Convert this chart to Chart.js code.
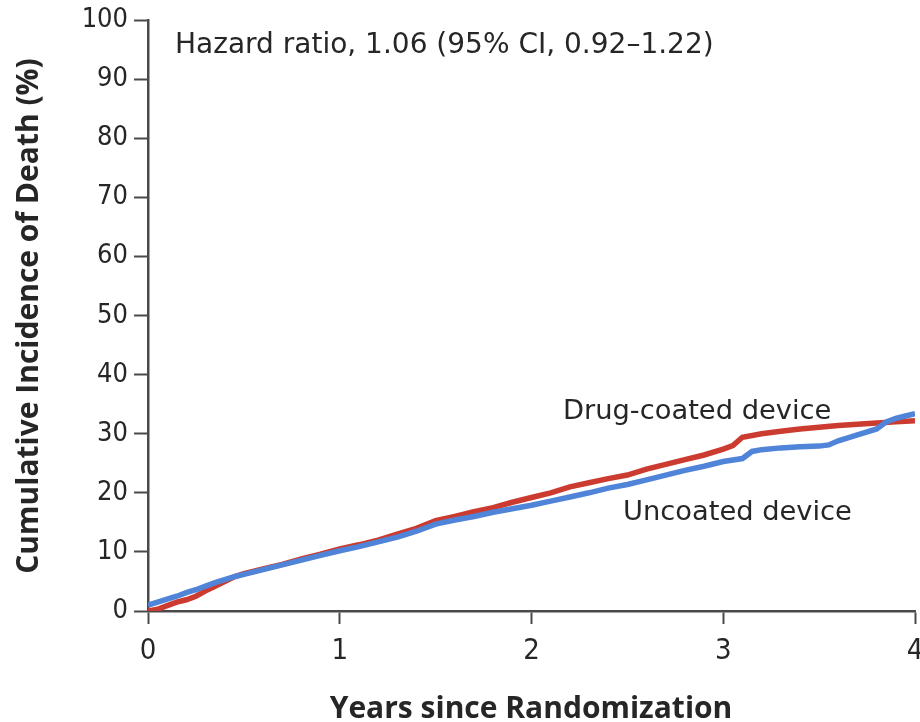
<!DOCTYPE html>
<html>
<head>
<meta charset="utf-8">
<script src="https://cdn.jsdelivr.net/npm/chart.js@4.4.0/dist/chart.umd.min.js"></script>
<style>
  html, body { margin: 0; padding: 0; background: #ffffff; }
  #wrap { width: 920px; height: 722px; }
</style>
</head>
<body>
<div id="wrap"><canvas id="c" width="920" height="722"></canvas></div>
<script>
// Years since randomization at which each curve value is read
const yearsDrug = [0, 0.05, 0.1, 0.15, 0.2, 0.25, 0.3, 0.35, 0.4, 0.45, 0.5, 0.6, 0.7, 0.8, 0.9,
  1.0, 1.1, 1.2, 1.3, 1.4, 1.5, 1.6, 1.7, 1.8, 1.9, 2.0, 2.1, 2.2, 2.3, 2.4, 2.5, 2.6, 2.7, 2.8, 2.9,
  3.0, 3.05, 3.1, 3.2, 3.3, 3.4, 3.5, 3.6, 3.7, 3.8, 3.9, 4.0];
// Cumulative incidence of death (%), drug-coated device
const drugCoated = [0, 0.3, 0.9, 1.5, 1.9, 2.5, 3.4, 4.2, 5.0, 5.8, 6.3, 7.1, 7.9, 8.8, 9.6,
  10.5, 11.2, 12.0, 13.0, 14.0, 15.3, 16.0, 16.8, 17.5, 18.4, 19.2, 20.0, 21.0, 21.7, 22.4, 23.0, 24.0, 24.8, 25.6, 26.4,
  27.4, 28.0, 29.4, 30.0, 30.4, 30.8, 31.1, 31.4, 31.6, 31.8, 32.0, 32.2];

const yearsUncoated = [0, 0.05, 0.1, 0.15, 0.2, 0.25, 0.3, 0.35, 0.4, 0.45, 0.5, 0.6, 0.7, 0.8, 0.9,
  1.0, 1.1, 1.2, 1.3, 1.4, 1.5, 1.6, 1.7, 1.8, 1.9, 2.0, 2.1, 2.2, 2.3, 2.4, 2.5, 2.6, 2.7, 2.8, 2.9,
  3.0, 3.1, 3.15, 3.2, 3.3, 3.4, 3.5, 3.55, 3.6, 3.7, 3.8, 3.85, 3.9, 3.95, 4.0];
// Cumulative incidence of death (%), uncoated device
const uncoated = [1.0, 1.5, 2.0, 2.5, 3.1, 3.6, 4.2, 4.8, 5.3, 5.8, 6.2, 7.0, 7.8, 8.6, 9.4,
  10.2, 10.9, 11.7, 12.5, 13.5, 14.7, 15.4, 16.0, 16.7, 17.3, 17.9, 18.6, 19.3, 20.0, 20.8, 21.4, 22.2, 23.0, 23.8, 24.5,
  25.3, 25.8, 27.0, 27.3, 27.6, 27.8, 27.9, 28.1, 28.8, 29.8, 30.8, 32.0, 32.6, 33.0, 33.4];

const xTicks = [0, 1, 2, 3, 4];
const yTicks = [0, 10, 20, 30, 40, 50, 60, 70, 80, 90, 100];

const hazardText = 'Hazard ratio, 1.06 (95% CI, 0.92\u20131.22)';
const labelDrug = 'Drug-coated device';
const labelUncoated = 'Uncoated device';
const xTitle = 'Years since Randomization';
const yTitle = 'Cumulative Incidence of Death (%)';

const RED = '#cc3b2f';
const BLUE = '#4f84d8';
const AXIS = '#4a4a4a';
const TEXT = '#262626';
const FONT = '"DejaVu Sans", sans-serif';
const TICK_FONT = '"DejaVu Sans Condensed", "DejaVu Sans", sans-serif';
const TITLE_FONT = '"Open Sans", "DejaVu Sans", sans-serif';

const toXY = (xs, ys) => xs.map((x, i) => ({ x: x, y: ys[i] }));

// Axis titles and in-plot labels
const textPlugin = {
  id: 'chartText',
  afterDraw(chart) {
    const ctx = chart.ctx;
    ctx.save();
    ctx.fillStyle = TEXT;
    ctx.textAlign = 'left';
    ctx.textBaseline = 'alphabetic';
    ctx.font = '28px ' + FONT;
    ctx.fillText(hazardText, 175, 53);
    ctx.font = '27.3px ' + FONT;
    ctx.fillText(labelDrug, 563, 419);
    ctx.fillText(labelUncoated, 623, 520);

    ctx.font = 'bold 30px ' + TITLE_FONT;
    ctx.textAlign = 'center';
    ctx.fillText(xTitle, 531, 718);
    ctx.translate(38, 316);
    ctx.rotate(-Math.PI / 2);
    ctx.fillText(yTitle, 0, 0);
    ctx.restore();
  }
};

new Chart(document.getElementById('c'), {
  type: 'line',
  data: {
    datasets: [
      {
        label: labelUncoated,
        data: toXY(yearsUncoated, uncoated),
        borderColor: BLUE,
        borderWidth: 5.5,
        pointRadius: 0,
        tension: 0,
        fill: false
      },
      {
        label: labelDrug,
        data: toXY(yearsDrug, drugCoated),
        borderColor: RED,
        borderWidth: 5.5,
        pointRadius: 0,
        tension: 0,
        fill: false
      }
    ]
  },
  options: {
    responsive: false,
    animation: false,
    layout: { padding: { top: 20, right: 5, left: 0, bottom: 0 } },
    plugins: {
      legend: { display: false },
      tooltip: { enabled: false },
      title: { display: false }
    },
    scales: {
      x: {
        type: 'linear',
        min: 0,
        max: 4,
        afterFit: s => { s.height = 111; s.paddingRight = 0; s.paddingLeft = 0; },
        afterBuildTicks: s => { s.ticks = xTicks.map(v => ({ value: v })); },
        border: { display: true, color: AXIS, width: 2.5 },
        grid: { display: true, drawOnChartArea: false, drawTicks: true, tickLength: 13, tickWidth: 2, tickColor: AXIS },
        ticks: { color: TEXT, font: { family: TICK_FONT, size: 29 }, padding: 10, maxRotation: 0 }
      },
      y: {
        type: 'linear',
        min: 0,
        max: 100,
        afterFit: s => { s.width = 148; s.paddingTop = 0; s.paddingBottom = 0; },
        afterBuildTicks: s => { s.ticks = yTicks.map(v => ({ value: v })); },
        border: { display: true, color: AXIS, width: 2.5 },
        grid: { display: true, drawOnChartArea: false, drawTicks: true, tickLength: 14, tickWidth: 2, tickColor: AXIS },
        ticks: { color: TEXT, font: { family: TICK_FONT, size: 27 }, padding: 6 }
      }
    }
  },
  plugins: [textPlugin]
});
</script>
</body>
</html>
